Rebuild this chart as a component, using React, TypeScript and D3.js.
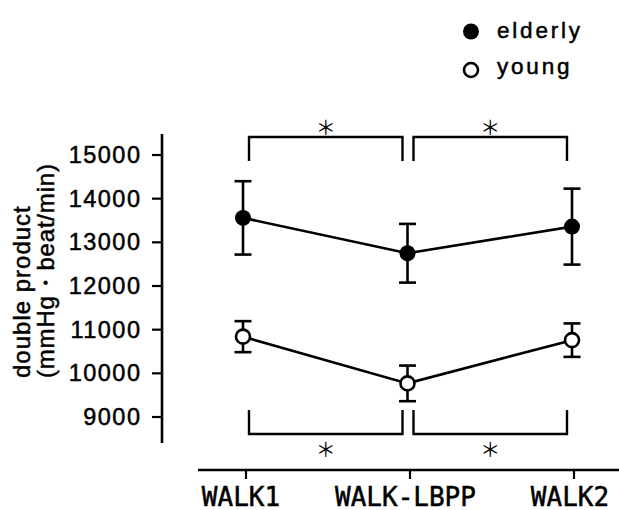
import React from "react";
import * as d3 from "d3";

const categories = ["WALK1", "WALK-LBPP", "WALK2"];
const elderlyMean = [13560, 12750, 13360];
const elderlyErr = [840, 672, 870];
const youngMean = [10840, 9770, 10760];
const youngErr = [355, 408, 383];
const yTicks = [9000, 10000, 11000, 12000, 13000, 14000, 15000];
const sigPairs: [string, string][] = [
  ["WALK1", "WALK-LBPP"],
  ["WALK-LBPP", "WALK2"],
];
const legendLabels = ["elderly", "young"];

const W = 619;
const H = 510;

export default function App() {
  const y = d3.scaleLinear().domain([9000, 15000]).range([417, 155]);
  const x = d3.scalePoint<string>().domain(categories).range([243, 572]);
  const xTick = d3.scalePoint<string>().domain(categories).range([246, 574]);
  const axisX = 162;
  const axisY = 470;
  const line = d3
    .line<number>()
    .x((_, i) => x(categories[i])!)
    .y((d) => y(d));

  const sw = 2.6;
  const cap = 8.5;
  const monoFont = "'DejaVu Sans Mono', monospace";
  const textFont = "'Liberation Sans', Arial, sans-serif";
  const bold = { stroke: "#000", strokeWidth: 0.5 };

  const series = [
    { mean: elderlyMean, err: elderlyErr, filled: true },
    { mean: youngMean, err: youngErr, filled: false },
  ];

  return (
    <div style={{ position: "absolute", left: 0, top: 0 }}>
      <svg width={W} height={H} style={{ display: "block", background: "#fff" }}>
        {/* legend */}
        {legendLabels.map((lab, i) => (
          <g key={lab} transform={`translate(471,${31.5 + i * 38.5})`}>
            <circle
              r={i === 0 ? 8 : 7}
              fill={i === 0 ? "#000" : "#fff"}
              stroke="#000"
              strokeWidth={i === 0 ? 0 : 2.6}
            />
            <text
              x={26}
              y={i === 0 ? 6 : 4}
              fontFamily={textFont}
              fontSize={22.5}
              letterSpacing={2.8}
              fill="#000"
              {...bold}
            >
              {lab}
            </text>
          </g>
        ))}

        {/* y axis */}
        <line x1={axisX} x2={axisX} y1={y(15480)} y2={443} stroke="#000" strokeWidth={2.6} />
        {yTicks.map((t) => (
          <g key={t}>
            <line x1={axisX - 10} x2={axisX} y1={y(t)} y2={y(t)} stroke="#000" strokeWidth={2.2} />
            <text
              x={141.5}
              y={y(t)}
              textAnchor="end"
              dominantBaseline="central"
              fontFamily={textFont}
              fontSize={23.5}
              letterSpacing={1.5}
              fill="#000"
              {...bold}
            >
              {t}
            </text>
          </g>
        ))}
        <g transform="translate(0,378) rotate(-90)">
          <text x={0} y={29.5} fontFamily={textFont} fontSize={24} letterSpacing={1} fill="#000" {...bold}>
            double product
          </text>
          <text x={0} y={53.5} fontFamily={textFont} fontSize={24} letterSpacing={0.8} fill="#000" {...bold}>
            (mmHg・beat/min)
          </text>
        </g>

        {/* x axis */}
        <line x1={198} x2={W} y1={axisY} y2={axisY} stroke="#000" strokeWidth={2.6} />
        {categories.map((c) => (
          <g key={c}>
            <line x1={xTick(c)} x2={xTick(c)} y1={axisY} y2={axisY + 9} stroke="#000" strokeWidth={2.2} />
            <text
              x={x(c)! - 2}
              y={505.5}
              textAnchor="middle"
              fontFamily={monoFont}
              fontSize={26}
              fill="#000"
              {...bold}
            >
              {c}
            </text>
          </g>
        ))}

        {/* significance brackets */}
        {sigPairs.map(([a, b], i) => {
          const x1 = x(a)! + 6;
          const x2 = x(b)! - 5;
          const mid = (x1 + x2) / 2;
          return (
            <g key={"sig" + i}>
              <path d={`M${x1},161V137H${x2}V161`} fill="none" stroke="#000" strokeWidth={2.4} />
              <text
                x={mid}
                y={126}
                textAnchor="middle"
                dominantBaseline="central"
                fontFamily="'Noto Sans CJK JP', sans-serif"
                fontSize={20}
                fill="#000"
              >
                ＊
              </text>
              <path d={`M${x1},410V434H${x2}V410`} fill="none" stroke="#000" strokeWidth={2.4} />
              <text
                x={mid}
                y={448}
                textAnchor="middle"
                dominantBaseline="central"
                fontFamily="'Noto Sans CJK JP', sans-serif"
                fontSize={20}
                fill="#000"
              >
                ＊
              </text>
            </g>
          );
        })}

        {/* series */}
        {series.map((s, si) => (
          <g key={si}>
            <path d={line(s.mean) || ""} fill="none" stroke="#000" strokeWidth={sw} />
            {s.mean.map((m, i) => {
              const cx = x(categories[i])!;
              const top = y(m + s.err[i]);
              const bot = y(m - s.err[i]);
              return (
                <g key={i}>
                  <line x1={cx} x2={cx} y1={top} y2={bot} stroke="#000" strokeWidth={sw} />
                  <line x1={cx - cap} x2={cx + cap} y1={top} y2={top} stroke="#000" strokeWidth={sw} />
                  <line x1={cx - cap} x2={cx + cap} y1={bot} y2={bot} stroke="#000" strokeWidth={sw} />
                  <circle
                    cx={cx}
                    cy={y(m)}
                    r={s.filled ? 8 : 7}
                    fill={s.filled ? "#000" : "#fff"}
                    stroke="#000"
                    strokeWidth={s.filled ? 0 : 2.6}
                  />
                </g>
              );
            })}
          </g>
        ))}
      </svg>
    </div>
  );
}
